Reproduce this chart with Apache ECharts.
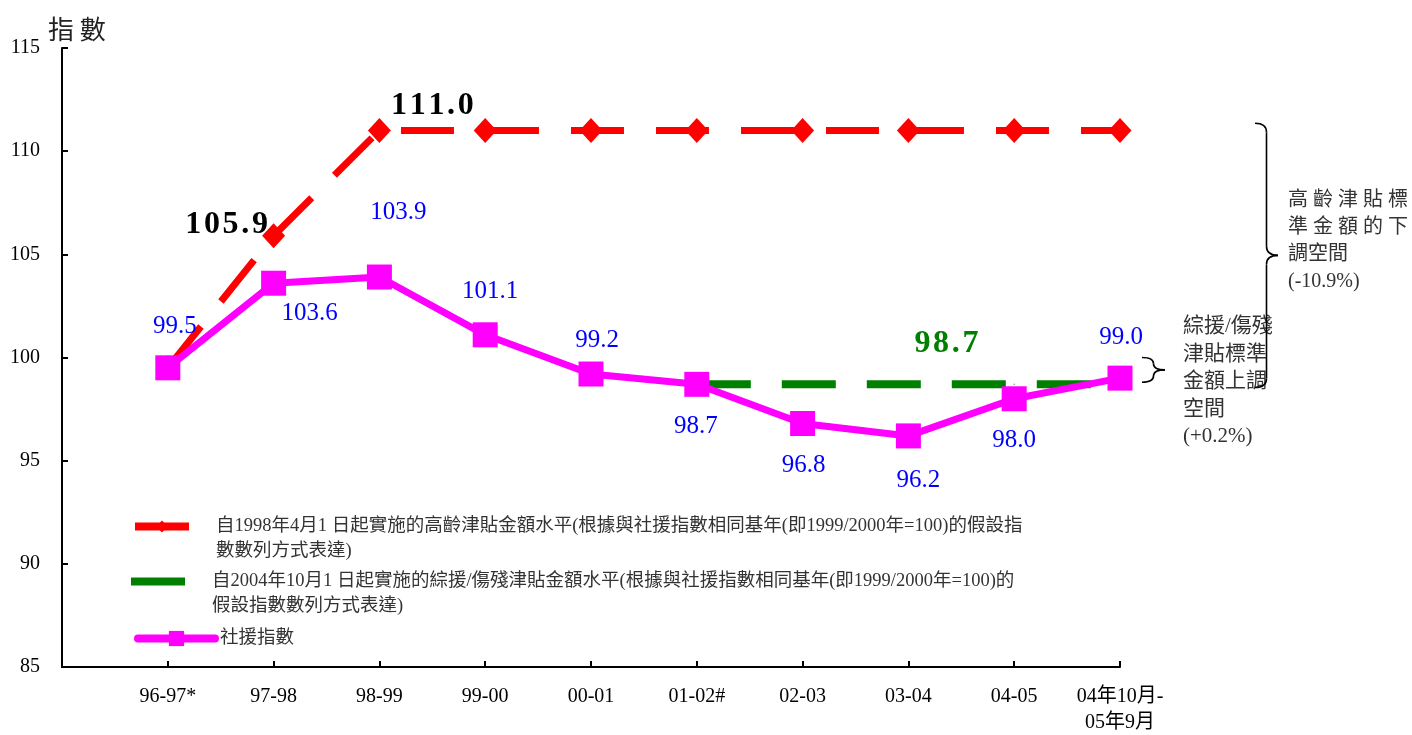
<!DOCTYPE html>
<html>
<head>
<meta charset="utf-8">
<script src="https://cdn.jsdelivr.net/npm/echarts@6/dist/echarts.min.js"></script>
<style>html,body{margin:0;padding:0;background:#fff}#c{width:1412px;height:735px}</style>
</head>
<body>
<div id="c"></div>
<script>
// ---- data ----
const categories = ['96-97*', '97-98', '98-99', '99-00', '00-01', '01-02#', '02-03', '03-04', '04-05', '04年10月-\n05年9月'];
const ssaIndex = [99.5, 103.6, 103.9, 101.1, 99.2, 98.7, 96.8, 96.2, 98.0, 99.0];
const oaaLevel = [99.5, 105.9, 111.0, 111.0, 111.0, 111.0, 111.0, 111.0, 111.0, 111.0];
const cssaDisLevel = [null, null, null, null, null, 98.7, 98.7, 98.7, 98.7, 98.7];
const yTicks = { min: 85, max: 115, interval: 5 };
const nameOAA = '自1998年4月1 日起實施的高齡津貼金額水平(根據與社援指數相同基年(即1999/2000年=100)的假設指\n數數列方式表達)';
const nameCSSA = '自2004年10月1 日起實施的綜援/傷殘津貼金額水平(根據與社援指數相同基年(即1999/2000年=100)的\n假設指數數列方式表達)';
const nameSSA = '社援指數';
const yTitle = '指 數';
const noteBig = '高 齡 津 貼 標\n準 金 額 的 下\n調空間\n(-10.9%)';
const noteSmall = '綜援/傷殘\n津貼標準\n金額上調\n空間\n(+0.2%)';

// ---- styles (label offsets etc.) ----
const ssaLabelOffsets = [[7,-41],[36,30],[19,-65],[5,-43],[6,-34],[-1,42],[1,42],[10,45],[0,42],[1,-41]];
const oaaLabelOffsets = {1: [-47,-11], 2: [53,-25]};
const cssaLabelIdx = 7, cssaLabelOffset = [38,-41];
const FONT = '"Liberation Serif", "Noto Sans CJK TC", serif';
const spaced = s => s.split('').join('\u200A');

const xCats = [''].concat(categories);
const pad = arr => [null].concat(arr);

const chart = echarts.init(document.getElementById('c'), null, {renderer: 'canvas'});

const ssaData = pad(ssaIndex.map((v, i) => ({value: v, label: {offset: ssaLabelOffsets[i]}})));
const oaaData = pad(oaaLevel.map((v, i) => oaaLabelOffsets[i]
  ? {value: v, label: {show: true, offset: oaaLabelOffsets[i]}} : v));
const cssaData = pad(cssaDisLevel.map((v, i) => i === cssaLabelIdx
  ? {value: v, label: {show: true, offset: cssaLabelOffset}} : v));

const legendText = {fontFamily: FONT, fontSize: 18.5, color: '#333', lineHeight: 25};
const legendBase = {orient: 'vertical', padding: 0, itemGap: 0, selectedMode: false};
// two-line legend items: a blank leading line keeps the icon level with the first text line
const firstLineFmt = n => ' \n' + n;

chart.setOption({
  backgroundColor: '#fff',
  animation: false,
  title: {text: yTitle, left: 43, top: 11, textStyle: {fontFamily: '"Noto Sans CJK TC", sans-serif', fontSize: 26, fontWeight: 'normal', color: '#222'}},
  grid: {left: 62, right: 292, top: 48, bottom: 68, containLabel: false, outerBoundsMode: 'none'},
  legend: [
    Object.assign({}, legendBase, {
      left: 131, top: 489, itemWidth: 54, itemHeight: 15, data: [nameOAA], formatter: firstLineFmt,
      lineStyle: {type: 'solid', width: 8},
      textStyle: Object.assign({}, legendText, {padding: [0, 0, 0, 22]})
    }),
    Object.assign({}, legendBase, {
      left: 131, top: 544, itemWidth: 54, itemHeight: 8, data: [{name: nameCSSA, icon: 'rect'}], formatter: firstLineFmt,
      textStyle: Object.assign({}, legendText, {padding: [0, 0, 0, 22]})
    }),
    Object.assign({}, legendBase, {
      left: 134, top: 626, itemWidth: 77, itemHeight: 19, data: [nameSSA],
      lineStyle: {type: 'solid', width: 8, cap: 'round'},
      textStyle: legendText
    })
  ],
  xAxis: {
    type: 'category', data: xCats, boundaryGap: false,
    axisLine: {lineStyle: {color: '#000', width: 2}},
    axisTick: {inside: true, length: 6, interval: 0, lineStyle: {color: '#000', width: 2}},
    axisLabel: {interval: 0, margin: 17, fontFamily: FONT, fontSize: 20, color: '#000', lineHeight: 26},
    splitLine: {show: false}
  },
  yAxis: {
    type: 'value', min: yTicks.min, max: yTicks.max, interval: yTicks.interval,
    axisLine: {show: true, lineStyle: {color: '#000', width: 2}},
    axisTick: {show: true, inside: true, length: 6, lineStyle: {color: '#000', width: 2}},
    axisLabel: {margin: 22, fontFamily: FONT, fontSize: 20, color: '#000'},
    splitLine: {show: false}
  },
  series: [
    {
      name: nameOAA, type: 'line', data: oaaData, z: 2,
      symbol: 'diamond', symbolSize: [23, 25],
      itemStyle: {color: '#ff0000'},
      lineStyle: {color: '#ff0000', width: 7, type: [53, 32]},
      label: {show: false, position: 'inside', fontFamily: FONT, fontSize: 32, fontWeight: 'bold', color: '#000',
        formatter: p => spaced(p.value.toFixed(1))}
    },
    {
      name: nameCSSA, type: 'line', data: cssaData, z: 3,
      symbol: 'rect', symbolSize: 1, showSymbol: true,
      itemStyle: {color: '#008000'},
      lineStyle: {color: '#008000', width: 8, type: [54, 31]},
      label: {show: false, position: 'inside', fontFamily: FONT, fontSize: 32, fontWeight: 'bold', color: '#008000',
        formatter: p => spaced(p.value.toFixed(1))}
    },
    {
      name: nameSSA, type: 'line', data: ssaData, z: 4,
      symbol: 'rect', symbolSize: 25,
      itemStyle: {color: '#ff00ff'},
      lineStyle: {color: '#ff00ff', width: 7},
      label: {show: true, position: 'inside', fontFamily: FONT, fontSize: 25, color: '#0000ff',
        formatter: p => p.value.toFixed(1)}
    }
  ]
});

// ---- annotations (braces + notes) ----
function px(idx, val) { return chart.convertToPixel({gridIndex: 0}, [idx, val]); }
function brace(x0, y0, y1, w) {
  const xm = x0 + w * 0.5, xt = x0 + w, ym = (y0 + y1) / 2, r = Math.min(9, (y1 - y0) / 4);
  const st = {stroke: '#000', lineWidth: 1.6, fill: null};
  return [
    {type: 'bezierCurve', shape: {x1: x0, y1: y0, cpx1: xm, cpy1: y0, x2: xm, y2: y0 + r}, style: st},
    {type: 'line', shape: {x1: xm, y1: y0 + r, x2: xm, y2: ym - r}, style: st},
    {type: 'bezierCurve', shape: {x1: xm, y1: ym - r, cpx1: xm, cpy1: ym, x2: xt, y2: ym}, style: st},
    {type: 'bezierCurve', shape: {x1: xt, y1: ym, cpx1: xm, cpy1: ym, x2: xm, y2: ym + r}, style: st},
    {type: 'line', shape: {x1: xm, y1: ym + r, x2: xm, y2: y1 - r}, style: st},
    {type: 'bezierCurve', shape: {x1: xm, y1: y1 - r, cpx1: xm, cpy1: y1, x2: x0, y2: y1}, style: st}
  ];
}
const lastIdx = xCats.length - 1;
const xLast = px(lastIdx, 100)[0];
const bigTop = px(lastIdx, 111.35)[1], bigBot = px(lastIdx, 98.55)[1];
const smTop = px(lastIdx, 100.0)[1], smBot = px(lastIdx, 98.8)[1];
const graphics = [
  {type: 'text', left: xLast + 63, top: 313, style: {text: noteSmall, fontFamily: FONT, fontSize: 21, lineHeight: 27.5, fill: '#333'}},
  {type: 'text', left: xLast + 168, top: 187, style: {text: noteBig, fontFamily: FONT, fontSize: 20, lineHeight: 27, fill: '#333'}}
].concat(brace(xLast + 135, bigTop, bigBot, 23), brace(xLast + 22, smTop, smBot, 23));
chart.setOption({graphic: graphics});
</script>
</body>
</html>
